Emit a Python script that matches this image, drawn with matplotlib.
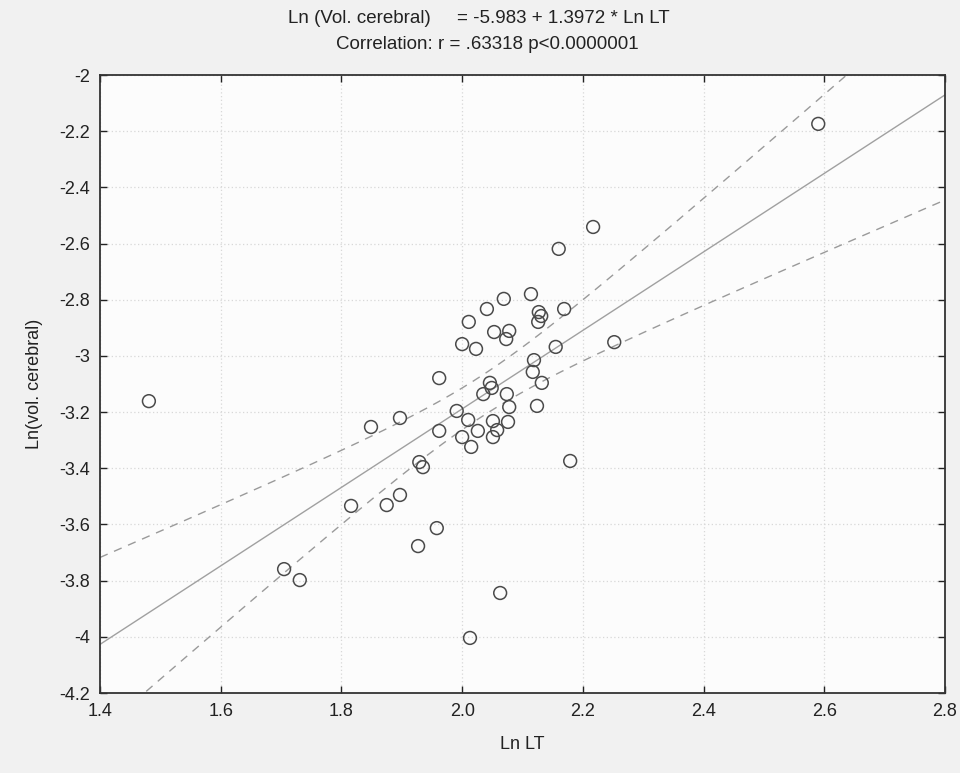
import numpy as np
import matplotlib
matplotlib.use("Agg")
import matplotlib.pyplot as plt
from matplotlib import font_manager

# ---- data ----
ln_lt = [1.481, 2.590, 2.217, 2.160, 2.114, 2.069, 2.041, 2.011, 2.127, 2.131,
         2.126, 2.169, 2.053, 2.078, 2.073, 2.000, 2.023, 2.155, 2.252, 2.119,
         2.117, 2.132, 1.962, 2.046, 2.049, 2.035, 2.074, 2.078, 2.124, 1.991,
         1.897, 1.849, 2.010, 2.051, 2.076, 1.962, 2.026, 2.058, 2.051, 2.000,
         2.015, 2.179, 1.929, 1.935, 1.816, 1.875, 1.897, 1.958, 1.927, 1.705,
         1.731, 2.063, 2.013]
ln_vol = [-3.161, -2.174, -2.541, -2.619, -2.780, -2.797, -2.833, -2.879, -2.844, -2.858,
          -2.879, -2.833, -2.915, -2.911, -2.940, -2.958, -2.975, -2.968, -2.951, -3.015,
          -3.057, -3.096, -3.079, -3.096, -3.114, -3.136, -3.136, -3.182, -3.178, -3.196,
          -3.221, -3.253, -3.228, -3.232, -3.235, -3.267, -3.267, -3.264, -3.289, -3.289,
          -3.324, -3.374, -3.378, -3.396, -3.534, -3.531, -3.495, -3.613, -3.677, -3.759,
          -3.798, -3.844, -4.004]
intercept = -5.983
slope = 1.3972
t_crit = 2.008  # 95%, df = n - 2

x_ticks = [1.4, 1.6, 1.8, 2.0, 2.2, 2.4, 2.6, 2.8]
x_tick_labels = ["1.4", "1.6", "1.8", "2.0", "2.2", "2.4", "2.6", "2.8"]
y_ticks = [-2, -2.2, -2.4, -2.6, -2.8, -3, -3.2, -3.4, -3.6, -3.8, -4, -4.2]
y_tick_labels = ["-2", "-2.2", "-2.4", "-2.6", "-2.8", "-3", "-3.2", "-3.4", "-3.6", "-3.8", "-4", "-4.2"]

names = {f.name for f in font_manager.fontManager.ttflist}
fam = "Liberation Sans Narrow" if "Liberation Sans Narrow" in names else "Liberation Sans"
plt.rcParams['font.family'] = [fam, 'DejaVu Sans']

fig = plt.figure(figsize=(9.6, 7.73), dpi=100, facecolor='#f1f1f1')
ax = fig.add_axes([100/960, 1-693/773, 845/960, 618/773])
ax.set_facecolor('#fcfcfc')

x = np.array(ln_lt)
y = np.array(ln_vol)
n = len(x)
resid = y - (intercept + slope * x)
s = np.sqrt(np.sum(resid**2) / (n - 2))
xbar = x.mean()
sxx = np.sum((x - xbar)**2)

xs = np.linspace(1.4, 2.8, 300)
yhat = intercept + slope * xs
hw = t_crit * s * np.sqrt(1/n + (xs - xbar)**2 / sxx)

ax.plot(xs, yhat, color='#a0a0a0', lw=1.0, zorder=2)
ax.plot(xs, yhat + hw, color='#9a9a9a', lw=1.0, ls=(0, (6, 5)), zorder=2)
ax.plot(xs, yhat - hw, color='#9a9a9a', lw=1.0, ls=(0, (6, 5)), zorder=2)

ax.scatter(x, y, s=85, facecolors='none', edgecolors='#4a4a4a', linewidths=1.1, zorder=3)

ax.set_xlim(1.4, 2.8)
ax.set_ylim(-4.2, -2)
ax.set_xticks(x_ticks)
ax.set_xticklabels(x_tick_labels)
ax.set_yticks(y_ticks)
ax.set_yticklabels(y_tick_labels)
ax.grid(True, color='#d8d8d8', ls=(0, (1, 2)), lw=0.9)
ax.set_axisbelow(True)
ax.tick_params(direction='in', top=True, right=True, length=5, width=1,
               labelsize=13, colors='#222222', pad=7)
for sp in ax.spines.values():
    sp.set_color('#333333')
    sp.set_linewidth(1.3)

ax.set_xlabel("Ln LT", fontsize=13, labelpad=12, color='#222222')
ax.set_ylabel("Ln(vol. cerebral)", fontsize=13, labelpad=12, color='#222222')

fig.text(0.499, 0.976, "Ln (Vol. cerebral)     = -5.983 + 1.3972 * Ln LT",
         ha='center', va='center', fontsize=13.5, color='#222222')
fig.text(0.508, 0.943, "Correlation: r = .63318 p<0.0000001",
         ha='center', va='center', fontsize=13.5, color='#222222')

fig.savefig("out.png", dpi=100, facecolor=fig.get_facecolor())
